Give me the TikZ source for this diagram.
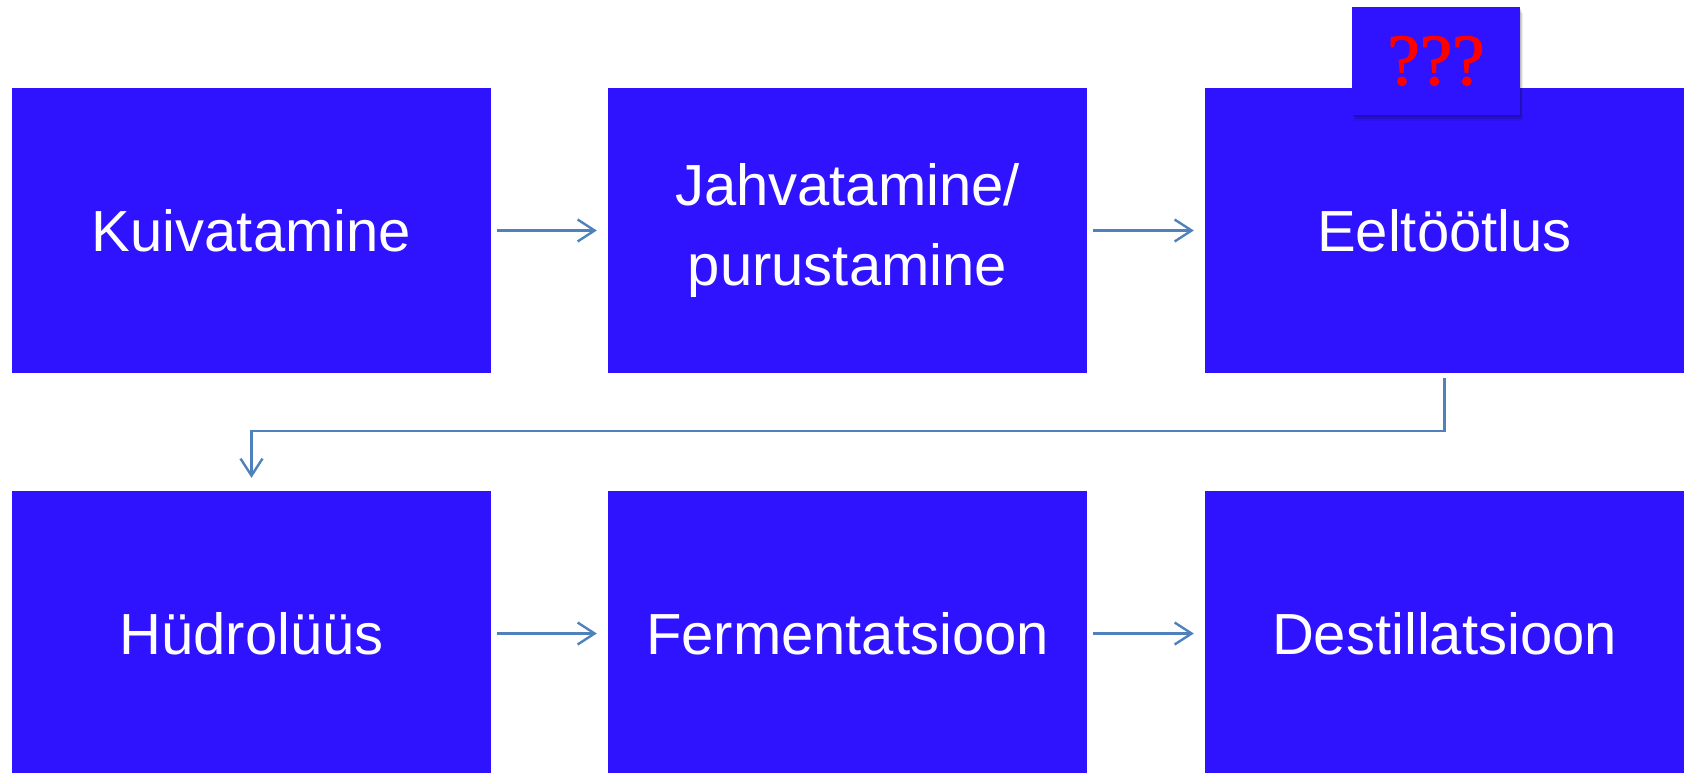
\documentclass[tikz,border=0pt]{standalone}
\usepackage{fontspec}
\setmainfont{Liberation Sans}
\newfontfamily\qfont[FakeBold=1.6]{Liberation Serif}
\usetikzlibrary{arrows.meta,shadows}
\definecolor{boxblue}{RGB}{47,19,255}
\definecolor{arrblue}{RGB}{79,129,189}
\definecolor{qred}{RGB}{255,0,0}
\tikzset{
  stepbox/.style={fill=boxblue, draw=none, minimum width=479pt, minimum height=285pt,
    inner sep=0pt, text=white, align=center, font=\fontsize{58}{80}\selectfont},
  arr/.style={draw=arrblue, line width=2.4pt, -{Straight Barb[length=17pt,width=22pt,line width=2.4pt]}},
  qbox/.style={fill=boxblue, draw=none, minimum width=168pt, minimum height=108pt, inner sep=0pt,
    text=qred, font=\qfont\fontsize{73}{73}\selectfont,
    drop shadow={shadow xshift=1pt, shadow yshift=-2pt, opacity=0.12, fill=black},
    drop shadow={shadow xshift=2pt, shadow yshift=-4pt, opacity=0.10, fill=black},
    drop shadow={shadow xshift=3pt, shadow yshift=-6pt, opacity=0.07, fill=black}}
}
\begin{document}
\begin{tikzpicture}[x=1pt,y=-1pt]
\useasboundingbox (0,0) rectangle (1686,773);
\node[stepbox] (a) at (251.5,230.5) {Kuivatamine};
\node[stepbox] (b) at (847.5,230.5) {Jahvatamine/\\purustamine};
\node[stepbox] (c) at (1444.5,230.5) {Eeltöötlus};
\node[stepbox] (d) at (251.5,633.5) {Hüdrolüüs};
\node[stepbox] (e) at (847.5,633.5) {Fermentatsioon};
\node[stepbox] (f) at (1444.5,633.5) {Destillatsioon};
\node[qbox] (q) at (1436,61) {\raisebox{-4pt}{???}};
\draw[arr, shorten <=6pt, shorten >=11pt] (a) -- (b);
\draw[arr, shorten <=6pt, shorten >=11pt] (b) -- (c);
\draw[arr, shorten <=6pt, shorten >=11pt] (d) -- (e);
\draw[arr, shorten <=6pt, shorten >=11pt] (e) -- (f);
\draw[arr, shorten <=5pt, shorten >=13pt] (c.south) -- ++(0,58) -| (d.north);
\end{tikzpicture}
\end{document}
